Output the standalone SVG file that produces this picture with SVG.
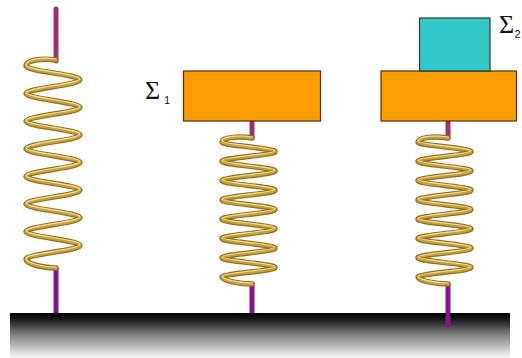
<svg xmlns="http://www.w3.org/2000/svg" xmlns:xlink="http://www.w3.org/1999/xlink" width="522" height="358" viewBox="0 0 522 358">
  <style>
    .coilBase { fill: none; stroke: #94701A; stroke-width: 5.5; stroke-linecap: round; stroke-linejoin: round; }
    .coilMid { fill: none; stroke: #C4A040; stroke-width: 3.2; stroke-linecap: round; }
    .coilHi { fill: none; stroke: #F0DC9C; stroke-width: 1.2; stroke-linecap: round; }
    .rodTop { stroke: #A1306E; stroke-width: 5; stroke-linecap: round; }
    .rodBot { stroke: #86158C; stroke-width: 5; stroke-linecap: butt; }
    .orange { fill: #FF9D00; stroke: #4A3010; stroke-width: 1.2; }
    .cyan { fill: #33C9C9; stroke: #2A3A3A; stroke-width: 1.2; }
    .sig { font-family: "Liberation Serif", "DejaVu Serif", serif; font-size: 26px; fill: #111; }
    .sub { font-family: "Liberation Sans", "DejaVu Sans", sans-serif; font-size: 11px; fill: #111; }
  </style>
  <defs>
    <linearGradient id="groundGrad" x1="0" y1="0" x2="0" y2="1">
      <stop offset="0" stop-color="#000000"/>
      <stop offset="0.12" stop-color="#141414"/>
      <stop offset="0.5" stop-color="#858585"/>
      <stop offset="1" stop-color="#f8f8f8"/>
    </linearGradient>
    <path id="coilShort" d="M252,138 C240,136 222,137 222,142 C222,145.5 275,148.15 275,151.65 S222,157.8 222,161.3 S275,167.45 275,170.95 S222,177.1 222,180.6 S275,186.75 275,190.25 S222,196.4 222,199.9 S275,206.05 275,209.55 S222,215.7 222,219.2 S275,225.35 275,228.85 S222,235 222,238.5 S275,244.65 275,248.15 S222,254.3 222,257.8 S275,263.95 275,267.45 S222,273.6 222,277.1 C222,280.6 240,284 252,284"/>
    <path id="coilLong" d="M56,60 C42,58 26,60 26,66 C26,71 80,74.8 80,79.8 S26,88.6 26,93.6 S80,102.4 80,107.4 S26,116.2 26,121.2 S80,130 80,135 S26,143.8 26,148.8 S80,157.6 80,162.6 S26,171.4 26,176.4 S80,185.2 80,190.2 S26,199 26,204 S80,212.8 80,217.8 S26,226.6 26,231.6 S80,240.4 80,245.4 S26,254.2 26,259.2 C26,264.2 44,268 56,268"/>
  </defs>

  <rect width="522" height="358" fill="#ffffff"/>

  <g id="ground">
    <rect x="10" y="313" width="500" height="45" fill="url(#groundGrad)"/>
  </g>

  <g id="connectors">
    <line class="rodTop" x1="56" y1="9" x2="56" y2="61"/>
    <line class="rodBot" x1="56" y1="268" x2="56" y2="313"/>
    <line class="rodTop" x1="252" y1="121" x2="252" y2="138"/>
    <line class="rodBot" x1="252" y1="283" x2="252" y2="313"/>
    <line class="rodTop" x1="448" y1="121" x2="448" y2="138"/>
    <line class="rodBot" x1="448" y1="283" x2="448" y2="327"/>
  </g>

  <g id="spring1">
    <use xlink:href="#coilLong" class="coilBase"/>
    <use xlink:href="#coilLong" class="coilMid"/>
    <use xlink:href="#coilLong" class="coilHi" transform="translate(0,-1)"/>
  </g>

  <g id="spring2">
    <use xlink:href="#coilShort" class="coilBase"/>
    <use xlink:href="#coilShort" class="coilMid"/>
    <use xlink:href="#coilShort" class="coilHi" transform="translate(0,-1)"/>
  </g>

  <g id="spring3" transform="translate(196,0)">
    <use xlink:href="#coilShort" class="coilBase"/>
    <use xlink:href="#coilShort" class="coilMid"/>
    <use xlink:href="#coilShort" class="coilHi" transform="translate(0,-1)"/>
  </g>

  <g id="mass1">
    <rect class="orange" x="183.5" y="71" width="137" height="50"/>
    <text class="sig" x="145" y="99">Σ</text>
    <text class="sub" x="164" y="104">1</text>
  </g>

  <g id="mass2">
    <rect class="orange" x="381" y="71" width="135.5" height="50"/>
  </g>

  <g id="mass3">
    <rect class="cyan" x="419.5" y="18" width="70.5" height="53"/>
    <text class="sig" x="499" y="33">Σ</text>
    <text class="sub" x="514.5" y="38">2</text>
  </g>
</svg>
